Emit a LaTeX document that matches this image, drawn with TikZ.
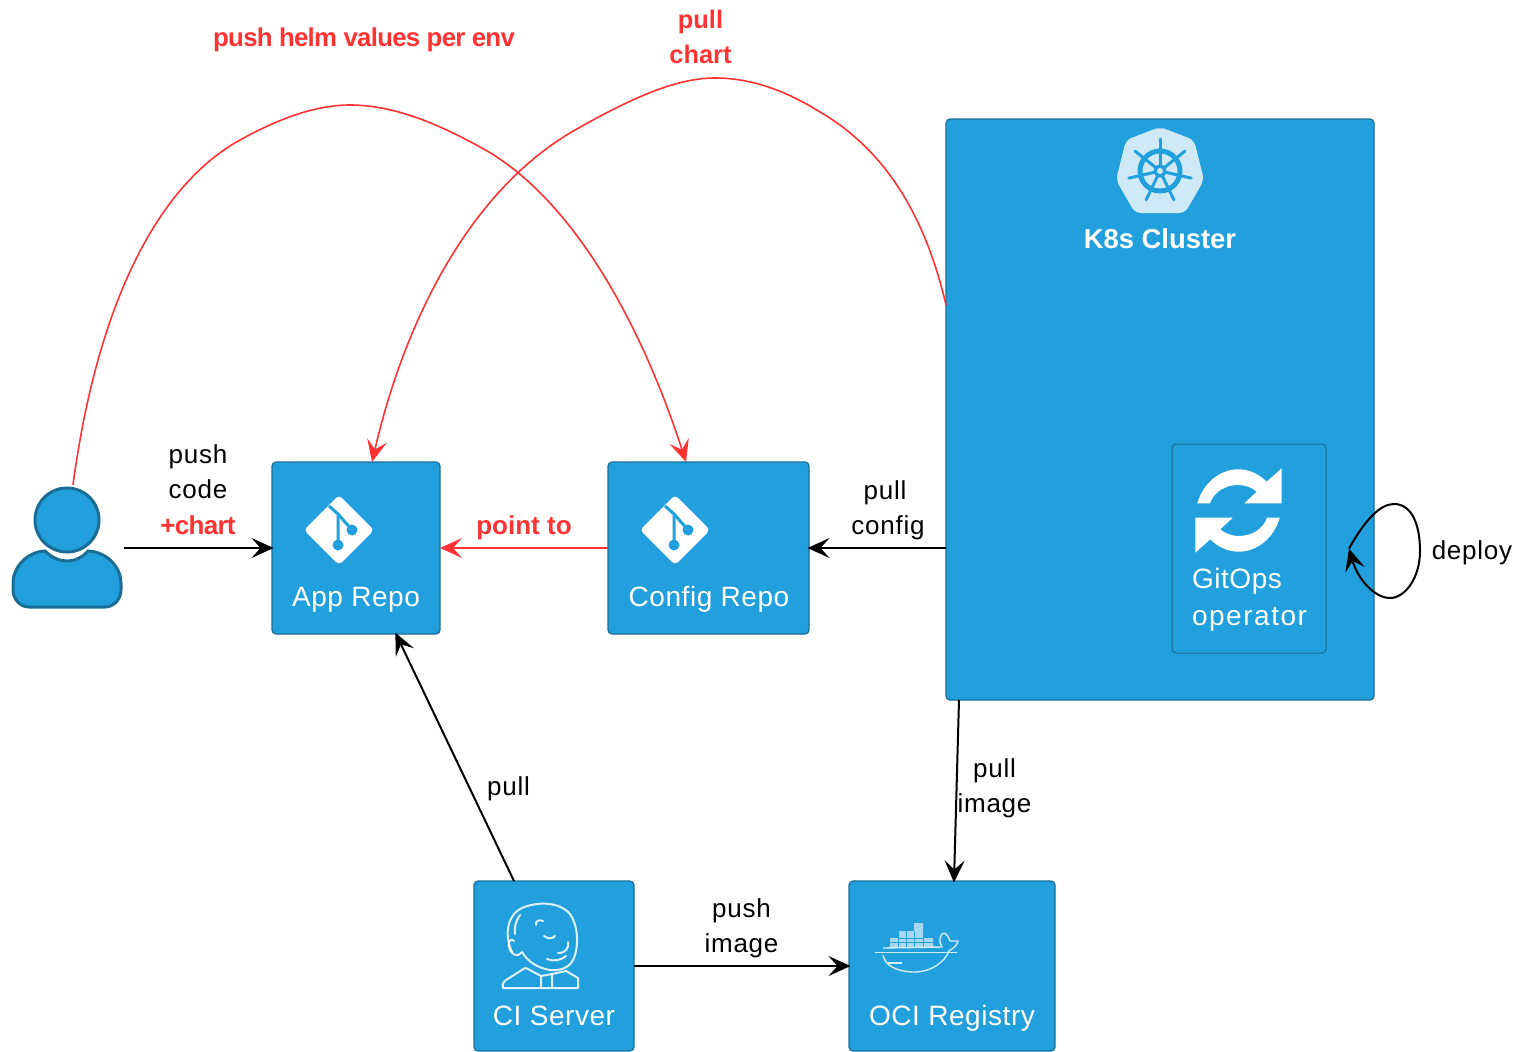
\documentclass[tikz,border=0pt]{standalone}
\usepackage{fontspec}
\setmainfont{Liberation Sans}
\newfontfamily\labelfont[LetterSpace=3]{Liberation Sans}
\newfontfamily\boxfont[LetterSpace=2]{Liberation Sans}
\newfontfamily\widefont[LetterSpace=5.5]{Liberation Sans}
\newfontfamily\tightfont[LetterSpace=-2.8]{Liberation Sans}
\usetikzlibrary{arrows.meta}
\definecolor{boxblue}{HTML}{22A0DD}
\definecolor{boxedge}{HTML}{1A6E96}
\definecolor{pushred}{HTML}{FF3333}
\definecolor{wheelpale}{HTML}{CFE9F7}
\begin{document}
\begin{tikzpicture}
[x=1pt, y=-1pt, line width=2pt, >={Stealth[length=22pt, width=20pt, inset=9pt]},
repo/.style={rectangle, draw=boxedge, fill=boxblue, line width=1.2pt, rounded corners=4pt, inner sep=0pt, outer sep=0pt},
caption/.style={text=white, font=\boxfont\fontsize{28}{36}\selectfont, inner sep=0pt},
note/.style={font=\labelfont\fontsize{26}{35}\selectfont, align=center, inner sep=0pt},
rednote/.style={text=pushred, font=\bfseries\fontsize{26}{35}\selectfont, align=center, inner sep=0pt},
tightnote/.style={text=pushred, font=\tightfont\bfseries\fontsize{26}{35}\selectfont, align=center, inner sep=0pt},
redline/.style={->, draw=pushred, line width=1.6pt},
blackline/.style={->, draw=black, line width=2pt, shorten >=-1.5pt},
redstraight/.style={->, draw=pushred, line width=2pt},
jenkinsline/.style={draw=white, opacity=0.85, line width=2pt, line join=round, line cap=round}]

\useasboundingbox (0,0) rectangle (1516,1052);
\clip (0,0) rectangle (1516,1052);

% the boxes
\node[repo, minimum width=168pt, minimum height=172pt] (app) at (356,548) {};
\node[repo, minimum width=201pt, minimum height=172pt] (config) at (708.5,548) {};
\node[repo, minimum width=428pt, minimum height=581pt] (k8s) at (1160,409.5) {};
\node[repo, minimum width=154pt, minimum height=209pt, line width=1pt] (gitops) at (1249,548.5) {};
\node[repo, minimum width=160pt, minimum height=170pt] (ci) at (554,966) {};
\node[repo, minimum width=206pt, minimum height=170pt] (oci) at (952,966) {};

% the user
\node[circle, draw=boxedge, fill=boxblue, line width=3pt, inner sep=0pt, outer sep=0pt, minimum size=64pt] (userhead) at (67,520) {};
\draw[draw=boxedge, fill=boxblue, line width=3pt] (45,551) .. controls (52,558) and (60,561) .. (67,561) .. controls (74,561) and (82,558) .. (88,551)
  .. controls (108,552) and (121,568) .. (121,583) -- (121,590) .. controls (121,600) and (113,607) .. (105,607) -- (29,607) .. controls (21,607) and (13,600) .. (13,590) -- (13,583) .. controls (13,568) and (26,552) .. (45,551) -- cycle;
\coordinate (userport) at (124,548);

% git marks
\foreach \v in {339,675} {
  \fill[white, rounded corners=4pt] (\v-35,530) -- (\v,495) -- (\v+35,530) -- (\v,565) -- cycle;
  \draw[boxblue, line width=3pt] (\v-10,506) -- (\v-1,514) -- (\v-1,545);
  \draw[boxblue, line width=3pt] (\v-1,514) -- (\v+13,530);
  \fill[boxblue] (\v-1,545) circle (5.5) (\v+13,530) circle (5.5);
}

% k8s wheel
\fill[wheelpale, rounded corners=6pt] (1160,127) -- (1194,140) -- (1204,180) -- (1185,213) -- (1135,213) -- (1116,180) -- (1126,140) -- cycle;
\draw[boxblue, line width=5pt] (1160,171) circle (20);
\foreach \v in {-90,-38.6,12.9,64.3,115.7,167.1,218.6} {
  \draw[boxblue, line width=3pt, line cap=round] (1160,171) -- ++(\v:32);
}
\fill[boxblue] (1160,171) circle (6.5);
\fill[wheelpale] (1160,171) circle (3);

% refresh arrows
\foreach \v in {0,180} {
  \fill[white, rotate around={\v:(1238.5,510.5)}] (1197.3,503.3) .. controls (1203,483) and (1220,469.3) .. (1238.3,469.3) .. controls (1249,469.3) and (1259,474) .. (1266.7,481.7) -- (1281.7,468.3) -- (1281.7,503.3) -- (1244.3,503.3) -- (1256.7,491.7) .. controls (1252,487.5) and (1245,485) .. (1238.3,485) .. controls (1225,485) and (1214,492) .. (1210,503.3) -- cycle;
}

% jenkins
\draw[jenkinsline] (512,952) .. controls (504,935) and (507,915) .. (522,908) .. controls (538,901) and (560,902) .. (570,914) .. controls (578,925) and (579,945) .. (574,958) .. controls (570,968) and (560,971) .. (550,970) .. controls (538,968) and (528,962) .. (522,952);
\draw[jenkinsline] (514,941) .. controls (509,937) and (507,944) .. (510,950) .. controls (512,955) and (518,957) .. (521,953);
\draw[jenkinsline] (525,968) -- (506,980) .. controls (502,983) and (502,986) .. (503,988) -- (541,988) -- (541,976) -- (526,968);
\draw[jenkinsline] (541,988) -- (578,988) -- (578,978) -- (566,971);
\draw[jenkinsline] (541,976) -- (552,974) -- (552,987);
\draw[jenkinsline] (552,974) -- (566,971);
\draw[jenkinsline] (536,925) .. controls (535,921) and (539,919) .. (543,921);
\draw[jenkinsline] (544,936) .. controls (548,939) and (552,939) .. (555,936);
\draw[jenkinsline] (547,959) .. controls (553,962) and (562,960) .. (566,956);
\draw[jenkinsline] (558,953) .. controls (566,953) and (569,948) .. (568,942);
\draw[jenkinsline] (520,915) .. controls (516,920) and (514,928) .. (515,934);

% docker whale
\fill[white, opacity=0.6] (890,938) rectangle (933,947) (898,931) rectangle (923,938) (914,923) rectangle (923,931);
\draw[boxblue, line width=0.6pt] (898,931) -- (898,947) (906,931) -- (906,947) (914,931) -- (914,947) (923,931) -- (923,947) (890,942) -- (933,942) (898,938) -- (923,938);
\draw[white, opacity=0.8, line width=1.6pt] (875,952.5) -- (957,952.5);
\draw[white, opacity=0.8, line width=1.4pt, line join=round] (883,948) -- (942,947) .. controls (938,942) and (940,933) .. (944,933) .. controls (947,934) and (949,938) .. (950,941) -- (958,941) .. controls (957,947) and (951,949) .. (949,951) .. controls (945,962) and (930,973) .. (912,972) .. controls (895,971) and (885,965) .. (883,955);
\draw[white, opacity=0.8, line width=1.2pt] (888,963) -- (902,963);

% box captions
\node[caption] (apptext) at (356,600) {App Repo};
\node[caption] (configtext) at (709,599.5) {Config Repo};
\node[caption] (citext) at (554,1016) {CI Server};
\node[caption] (ocitext) at (952,1018) {OCI Registry};
\node[caption, anchor=west, align=left, font=\boxfont\fontsize{28}{36.5}\selectfont] (gitopstext) at (1191,600) {GitOps\\{\widefont operator}};
\node[text=white, font=\bfseries\fontsize{27.4}{34}\selectfont, inner sep=0pt] (k8stext) at (1160,239) {K8s Cluster};

% connectors
\draw[blackline] (userport) -- (app.west);
\draw[redstraight] (config.west) -- (app.east);
\draw[blackline] (k8s.west |- config.east) -- (config.east);
\draw[blackline] ([xshift=-40pt]ci.north) -- ([xshift=40pt]app.south);
\draw[blackline] (ci.east) -- (oci.west);
\draw[blackline] ([xshift=13pt]k8s.south west) -- ([xshift=2pt]oci.north);
\draw[redline] ([xshift=6pt,yshift=3pt]userhead.north) .. controls (95,320) and (150,190) .. (240,140) .. controls (278,119) and (315,105) .. (350,105) .. controls (395,105) and (440,125) .. (480,147) .. controls (570,195) and (640,320) .. ([xshift=-22.5pt]config.north);
\draw[redline] ([yshift=104.5pt]k8s.west) .. controls (925,215) and (885,150) .. (820,112) .. controls (785,90) and (750,78) .. (715,78) .. controls (675,78) and (630,99) .. (575,130) .. controls (470,190) and (405,320) .. ([xshift=16pt]app.north);
\coordinate (deployport) at ([xshift=23pt]gitops.east);
\draw[blackline, shorten >=0pt] (deployport) .. controls (1365,520) and (1380,504) .. (1394,504) .. controls (1412,504) and (1420,525) .. (1420,551) .. controls (1420,578) and (1405,598) .. (1390,598) .. controls (1375,598) and (1358,580) .. (deployport);

% connector labels
\node[note] (pushtext) at (198,471.5) {push\\code};
\node[tightnote] (charttext) at (198,525) {+chart};
\node[rednote] (pointtext) at (524,528) {point to};
\node[note] (pullconfig) at (888,510) {pull\kern6pt\\config};
\node[note] (deploytext) at (1472,553) {deploy};
\node[note] (pullimage) at (994.5,788) {pull\\image};
\node[note] (pulltext) at (508.5,789) {pull};
\node[note] (pushimage) at (741.5,928) {push\\image};
\node[tightnote, font=\tightfont\bfseries\fontsize{25.8}{35}\selectfont] (helmtext) at (364,40) {push helm values per env};
\node[rednote, font=\bfseries\fontsize{25.4}{35}\selectfont] (charthelm) at (700.5,37) {pull\\chart};
\end{tikzpicture}
\end{document}
